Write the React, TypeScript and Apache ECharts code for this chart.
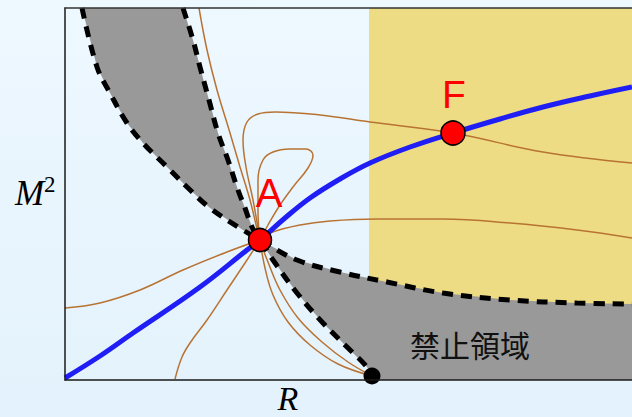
import React, { useEffect, useRef } from "react";
import * as echarts from "echarts";

type Pt = [number, number];

// Axis extents (arbitrary units of R and M^2)
const X_MAX = 567;
const Y_MAX = 372;

// Equilibrium sequence (blue), from the origin through A and F
const sequence: Pt[] = [
  [0, 2], [35, 24], [68, 47], [135, 93], [182, 130], [195, 140], [220, 162],
  [245, 182], [275, 201], [305, 217], [345, 233], [388, 247], [435, 261],
  [478, 273], [525, 284], [567, 293],
];

// Boundary of the forbidden region: shallow branch (through A, out to the right)
const shallowBoundary: Pt[] = [
  [17, 372], [32, 313], [45, 287], [62, 257], [78, 237], [102, 213], [122, 193],
  [145, 172], [178, 150], [195, 140], [232, 120], [275, 108], [322, 98],
  [378, 87], [445, 80], [512, 77], [567, 76],
];

// Boundary of the forbidden region: steep branch (through A, down to the axis)
const steepBoundary: Pt[] = [
  [118, 372], [128, 340], [135, 313], [144, 280], [153, 247], [163, 220],
  [173, 190], [180, 172], [187, 153], [195, 140], [208, 120], [232, 87],
  [258, 57], [282, 33], [302, 13], [307, 4],
];

// Trajectories through A (copper)
const trajFromTop: Pt[] = [
  [134, 372], [142, 330], [152, 290], [165, 247], [175, 213], [185, 180],
  [195, 140], [203, 118], [215, 90], [233, 62], [257, 38], [283, 18], [307, 4],
];
const trajToEdge: Pt[] = [
  [195, 140], [200, 112], [208, 85], [223, 58], [245, 35], [273, 16], [307, 4],
];
const trajThroughF: Pt[] = [
  [195, 140], [188, 180], [181, 213], [178, 240], [182, 258], [193, 266],
  [210, 268], [255, 265], [305, 258], [388, 247], [478, 228], [567, 217],
];
const trajSmallLoop: Pt[] = [
  [195, 140], [193, 168], [193, 200], [198, 220], [208, 228], [225, 231],
  [241, 231], [248, 225], [243, 212], [228, 193], [215, 175], [203, 155], [195, 140],
];
const trajRight: Pt[] = [
  [195, 140], [205, 147], [235, 155], [265, 159], [312, 161], [378, 161],
  [445, 157], [512, 150], [567, 142],
];
const trajLeft: Pt[] = [
  [195, 140], [162, 128], [118, 110], [75, 90], [35, 77], [0, 72],
];
const trajDown: Pt[] = [
  [195, 140], [182, 120], [162, 90], [142, 60], [125, 37], [117, 23], [110, 1],
];

// Marked configurations
const pointA: Pt = [195, 140];
const pointF: Pt = [388, 247];
const pointEdge: Pt = [307, 4];

// Left edge of the shaded (yellow) band
const bandStart = 304;

const yellowRegion: Pt[] = [
  [bandStart, 0], [X_MAX, 0], [X_MAX, Y_MAX], [bandStart, Y_MAX],
];
const upperForbidden: Pt[] = shallowBoundary
  .slice(0, 10)
  .concat(steepBoundary.slice(0, 9).reverse());
const lowerForbidden: Pt[] = shallowBoundary
  .slice(9)
  .concat([[X_MAX, 0], [307, 0]] as Pt[])
  .concat(steepBoundary.slice(10).reverse());

const regions = [
  { pts: yellowRegion, color: "#eddc84" },
  { pts: upperForbidden, color: "#999999" },
  { pts: lowerForbidden, color: "#999999" },
];

const COPPER = "#b87333";
const trajectories = [
  trajFromTop, trajToEdge, trajThroughF, trajSmallLoop, trajRight, trajLeft, trajDown,
];

export default function App() {
  const ref = useRef<HTMLDivElement>(null);

  useEffect(() => {
    if (!ref.current) return;
    const chart = echarts.init(ref.current, undefined, { renderer: "svg" });

    const axisCommon = {
      type: "value" as const,
      axisTick: { show: false },
      axisLabel: { show: false },
      splitLine: { show: false },
      z: 10,
    };

    const series: any[] = [
      {
        type: "custom",
        coordinateSystem: "cartesian2d",
        silent: true,
        z: 1,
        data: regions.map((_, i) => [i, 0]),
        renderItem: (params: any, api: any) => {
          const r = regions[params.dataIndex];
          return {
            type: "polygon",
            shape: { points: r.pts.map((p) => api.coord(p)) },
            style: { fill: r.color, stroke: null },
          };
        },
      },
      ...trajectories.map((d) => ({
        type: "line",
        data: d,
        smooth: 0.4,
        symbol: "none",
        silent: true,
        z: 2,
        lineStyle: { color: COPPER, width: 1.5 },
      })),
      ...[shallowBoundary, steepBoundary].map((d) => ({
        type: "line",
        data: d,
        smooth: 0.4,
        symbol: "none",
        silent: true,
        z: 3,
        lineStyle: { color: "#000", width: 5, type: [11, 8], cap: "butt" },
      })),
      {
        type: "line",
        data: sequence,
        smooth: 0.4,
        symbol: "none",
        silent: true,
        z: 4,
        lineStyle: { color: "#1f1ff5", width: 5 },
      },
      {
        type: "scatter",
        silent: true,
        z: 5,
        data: [
          { value: pointA, symbolSize: 23 },
          { value: pointF, symbolSize: 24 },
        ],
        itemStyle: { color: "#ff0000", borderColor: "#000", borderWidth: 1.5, opacity: 1 },
      },
      {
        type: "scatter",
        silent: true,
        z: 5,
        data: [pointEdge],
        symbolSize: 17,
        itemStyle: { color: "#000", opacity: 1 },
      },
    ];

    chart.setOption({
      animation: false,
      backgroundColor: "transparent",
      grid: { left: 65, top: 8, right: 0, bottom: 37 },
      xAxis: [
        {
          ...axisCommon,
          min: 0,
          max: X_MAX,
          position: "bottom",
          axisLine: { show: true, onZero: false, lineStyle: { color: "#1a1a1a", width: 1.5 } },
        },
        {
          ...axisCommon,
          min: 0,
          max: X_MAX,
          position: "top",
          axisLine: { show: true, onZero: false, lineStyle: { color: "#333", width: 1.5 } },
        },
      ],
      yAxis: {
        ...axisCommon,
        min: 0,
        max: Y_MAX,
        axisLine: { show: true, onZero: false, lineStyle: { color: "#1a1a1a", width: 1.5 } },
      },
      series,
      graphic: [
        {
          type: "text",
          z: 20,
          style: {
            text: "M",
            x: 15,
            y: 193,
            font: 'italic 35px "Liberation Serif"',
            fill: "#000",
            textAlign: "left",
            textVerticalAlign: "middle",
          },
        },
        {
          type: "text",
          z: 20,
          style: {
            text: "2",
            x: 44,
            y: 184.5,
            font: '23px "Liberation Serif"',
            fill: "#000",
            textAlign: "left",
            textVerticalAlign: "middle",
          },
        },
        {
          type: "text",
          z: 20,
          style: {
            text: "R",
            x: 288,
            y: 398,
            font: 'italic 34px "Liberation Serif"',
            fill: "#000",
            textAlign: "center",
            textVerticalAlign: "middle",
          },
        },
        {
          type: "text",
          z: 20,
          style: {
            text: "A",
            x: 269,
            y: 193,
            font: '40px "Liberation Sans"',
            fill: "#ff0000",
            textAlign: "center",
            textVerticalAlign: "middle",
          },
        },
        {
          type: "text",
          z: 20,
          style: {
            text: "F",
            x: 454,
            y: 94.5,
            font: '39px "Liberation Sans"',
            fill: "#ff0000",
            textAlign: "center",
            textVerticalAlign: "middle",
          },
        },
        {
          type: "text",
          z: 20,
          style: {
            text: "禁止領域",
            x: 470,
            y: 344,
            font: '30px "Noto Sans CJK JP"',
            fill: "#111",
            textAlign: "center",
            textVerticalAlign: "middle",
          },
        },
      ],
    });

    return () => chart.dispose();
  }, []);

  return (
    <div
      style={{
        position: "fixed",
        left: 0,
        top: 0,
        width: 632,
        height: 417,
        background: "linear-gradient(180deg, #eef8ff 0%, #e3f2fc 100%)",
      }}
    >
      <div ref={ref} style={{ width: 632, height: 417 }} />
    </div>
  );
}
